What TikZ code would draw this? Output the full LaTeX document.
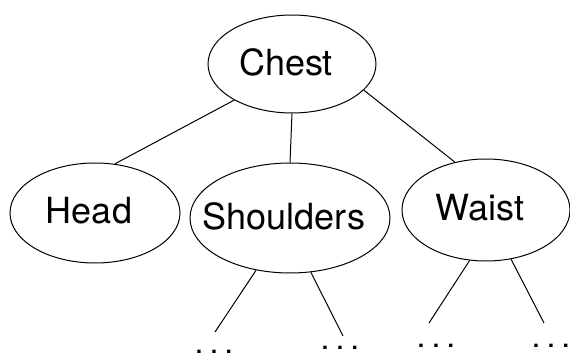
\documentclass[tikz,border=0pt]{standalone}
\usepackage{fontspec}
\setmainfont{TeX Gyre Heros}
\usetikzlibrary{shapes.geometric}

\begin{document}
\begin{tikzpicture}[x=1pt,y=1pt,
    part/.style={draw,ellipse,inner sep=0pt,line width=.5pt},
    partname/.style={font=\fontsize{18}{20}\selectfont,xshift=-3pt,yshift=1pt},
    more/.style={font=\fontsize{16}{18}\selectfont,inner sep=0pt}]
  \useasboundingbox (0,0) rectangle (285,180);
  % the parts
  \node[part,minimum width=84pt,minimum height=49pt,label={[partname]center:Chest}] (chest) at (146,148) {};
  \node[part,minimum width=85pt,minimum height=50pt,label={[partname]center:Head}] (head) at (47.5,73.5) {};
  \node[part,minimum width=100pt,minimum height=55pt,label={[partname]center:Shoulders}] (shoulders) at (145,71) {};
  \node[part,minimum width=84pt,minimum height=51pt,label={[partname]center:Waist}] (waist) at (243,75) {};
  \draw[line width=.5pt] (chest.212) -- (head.68);
  \draw[line width=.5pt] (chest.south) -- (shoulders.north);
  \draw[line width=.5pt] (chest.340) -- (waist.123);
  % the rest of the tree, left open
  \coordinate (s1) at (107.5,14);
  \coordinate (s2) at (171.5,12);
  \coordinate (w1) at (214.5,18.5);
  \coordinate (w2) at (272,18.5);
  \draw[line width=.5pt] (shoulders.237) -- (s1);
  \draw[line width=.5pt] (shoulders.291) -- (s2);
  \draw[line width=.5pt] (waist.252) -- (w1);
  \draw[line width=.5pt] (waist.297) -- (w2);
  \node[more] (sdots1) at (107,4) {.\kern3pt.\kern3pt.};
  \node[more] (sdots2) at (170,6) {.\kern3pt.\kern3pt.};
  \node[more] (wdots1) at (218,7) {.\kern3pt.\kern3pt.};
  \node[more] (wdots2) at (275.5,7) {.\kern3pt.\kern3pt.};
\end{tikzpicture}
\end{document}
